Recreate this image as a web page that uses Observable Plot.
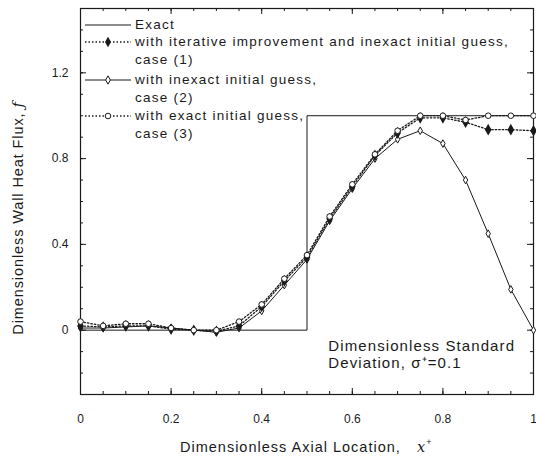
<!DOCTYPE html>
<html>
<head>
<meta charset="utf-8">
<script src="https://cdn.jsdelivr.net/npm/d3@7"></script>
<script src="https://cdn.jsdelivr.net/npm/@observablehq/plot@0.6"></script>
<style>
  html, body { margin: 0; padding: 0; background: #fff; }
  #wrap { position: relative; width: 536px; height: 456px; font-family: "Liberation Sans", Arial, sans-serif; }
  #legend { position: absolute; left: 80px; top: 8px; }
</style>
</head>
<body>
<div id="wrap"></div>
<script>
// ---- data ----
const xs = [0, 0.05, 0.1, 0.15, 0.2, 0.25, 0.3, 0.35, 0.4, 0.45, 0.5, 0.55, 0.6, 0.65, 0.7, 0.75, 0.8, 0.85, 0.9, 0.95, 1.0];
const case1 = [0.02, 0.015, 0.02, 0.02, 0.005, 0.0, -0.005, 0.02, 0.11, 0.23, 0.34, 0.52, 0.67, 0.815, 0.92, 0.99, 0.99, 0.97, 0.935, 0.935, 0.93];
const case2 = [0.01, 0.01, 0.015, 0.02, 0.01, 0.0, -0.01, 0.01, 0.09, 0.21, 0.33, 0.51, 0.66, 0.80, 0.89, 0.93, 0.87, 0.70, 0.45, 0.19, 0.0];
const case3 = [0.04, 0.02, 0.03, 0.03, 0.01, 0.0, 0.0, 0.04, 0.12, 0.24, 0.35, 0.53, 0.68, 0.82, 0.93, 1.0, 1.0, 0.98, 1.0, 1.0, 1.0];
const exactX = [0, 0.5, 0.5, 1];
const exactY = [0, 0, 1, 1];
const xMajor = [0, 0.2, 0.4, 0.6, 0.8, 1];
const xTickLabels = ["0", "0.2", "0.4", "0.6", "0.8", "1"];
const xMinor = d3.range(0, 21).map(i => i * 0.05);
const yMajor = [0, 0.4, 0.8, 1.2];
const yTickLabels = ["0", "0.4", "0.8", "1.2"];
const yMinor = d3.range(-3, 16).map(i => i / 10);
const legendLabels = [
  ["Exact"],
  ["with iterative improvement and inexact initial guess,", "case (1)"],
  ["with inexact initial guess,", "case (2)"],
  ["with exact initial guess,", "case (3)"]
];
const annotation = "Dimensionless Standard\nDeviation, σ⁺=0.1";

const exact = exactX.map((x, i) => ({x, y: exactY[i]}));
const mk = arr => xs.map((x, i) => ({x, y: arr[i]}));
const d1 = mk(case1), d2 = mk(case2), d3s = mk(case3);

const W = 536, H = 456, mL = 80, mR = 3, mT = 8, mB = 62;
const innerW = W - mL - mR, innerH = H - mT - mB;
const ink = "#1a1a1a";

const chart = Plot.plot({
  width: W, height: H,
  marginLeft: mL, marginRight: mR, marginTop: mT, marginBottom: mB,
  style: {fontFamily: "Liberation Sans, Arial, sans-serif", fontSize: "12px", color: ink, background: "#fff"},
  x: {domain: [0, 1]},
  y: {domain: [-0.3, 1.5]},
  marks: [
    Plot.frame({stroke: ink, strokeWidth: 1.2}),
    // inward ticks
    Plot.tickX(xMinor, {x: d => d, insetTop: innerH - 3, stroke: ink}),
    Plot.tickX(xMinor, {x: d => d, insetBottom: innerH - 3, stroke: ink}),
    Plot.tickX(xMajor, {x: d => d, insetTop: innerH - 6, stroke: ink}),
    Plot.tickX(xMajor, {x: d => d, insetBottom: innerH - 6, stroke: ink}),
    Plot.tickY(yMinor, {y: d => d, insetRight: innerW - 3, stroke: ink}),
    Plot.tickY(yMinor, {y: d => d, insetLeft: innerW - 3, stroke: ink}),
    Plot.tickY(yMajor, {y: d => d, insetRight: innerW - 6, stroke: ink}),
    Plot.tickY(yMajor, {y: d => d, insetLeft: innerW - 6, stroke: ink}),
    Plot.axisX({ticks: xMajor, tickFormat: (d, i) => xTickLabels[i], tickSize: 0, tickPadding: 20, fontSize: 12,
      label: null}),
    Plot.axisY({ticks: yMajor, tickFormat: (d, i) => yTickLabels[i], tickSize: 0, tickPadding: 12, fontSize: 12,
      label: null}),
    Plot.line(exact, {x: "x", y: "y", stroke: ink, strokeWidth: 1}),
    Plot.line(d2, {x: "x", y: "y", stroke: ink, strokeWidth: 1}),
    Plot.line(d1, {x: "x", y: "y", stroke: ink, strokeWidth: 1.3, strokeDasharray: "1.5,2"}),
    Plot.line(d3s, {x: "x", y: "y", stroke: ink, strokeWidth: 1.3, strokeDasharray: "1.5,2"}),
    Plot.dot(d2, {x: "x", y: "y", symbol: "diamond", r: 2.3, stroke: ink, fill: "#fff", strokeWidth: 1}),
    Plot.dot(d1, {x: "x", y: "y", symbol: "diamond", r: 2.6, fill: ink, stroke: ink}),
    Plot.dot(d3s, {x: "x", y: "y", symbol: "circle", r: 2.8, stroke: ink, fill: "#fff", strokeWidth: 1}),
    Plot.text([annotation], {x: 0.547, y: -0.04, text: d => d, textAnchor: "start", lineAnchor: "top",
      fontSize: 15, lineHeight: 1.13, fill: ink})
  ]
});

const wrap = document.getElementById("wrap");
wrap.appendChild(chart);

const svg = d3.select(chart);
svg.selectAll("text").filter(function() {
  return this.textContent.indexOf("Standard") >= 0;
}).attr("letter-spacing", "1.1").style("letter-spacing", "1.1px");

// axis titles
svg.append("text")
  .attr("transform", `translate(19, ${mT + 210}) rotate(-90)`)
  .attr("text-anchor", "middle").attr("dominant-baseline", "middle")
  .attr("font-size", 14.5).attr("fill", ink).style("letter-spacing", "0.9px")
  .html('Dimensionless Wall Heat Flux, <tspan font-style="italic" font-family="DejaVu Serif">ƒ</tspan>');
svg.append("text")
  .attr("x", 180).attr("y", 452).attr("text-anchor", "start")
  .attr("font-size", 14.5).attr("fill", ink).style("letter-spacing", "1px")
  .html('Dimensionless Axial Location,<tspan x="417" font-style="italic" font-family="DejaVu Serif">x</tspan><tspan dy="-7" font-size="9">+</tspan>');

// legend (inside plot, top-left)
const lg = d3.select(wrap).append("svg").attr("id", "legend").attr("width", 450).attr("height", 140);
const rows = [17, 34, 72, 108];
const styles = [
  {dash: null, sym: null},
  {dash: "1.5,2", sym: "fdiamond"},
  {dash: null, sym: "odiamond"},
  {dash: "1.5,2", sym: "ocircle"}
];
rows.forEach((ry, i) => {
  const g = lg.append("g");
  g.append("line").attr("x1", 5).attr("x2", 51).attr("y1", ry).attr("y2", ry)
    .attr("stroke", ink).attr("stroke-width", styles[i].dash ? 1.3 : 1).attr("stroke-dasharray", styles[i].dash);
  const s = styles[i].sym;
  if (s === "fdiamond") g.append("path").attr("d", d3.symbol(d3.symbolDiamond, 32)()).attr("transform", `translate(28,${ry})`).attr("fill", ink);
  if (s === "odiamond") g.append("path").attr("d", d3.symbol(d3.symbolDiamond, 20)()).attr("transform", `translate(28,${ry})`).attr("fill", "#fff").attr("stroke", ink);
  if (s === "ocircle") g.append("circle").attr("cx", 28).attr("cy", ry).attr("r", 2.8).attr("fill", "#fff").attr("stroke", ink);
  legendLabels[i].forEach((t, j) => {
    g.append("text").attr("x", 55).attr("y", ry + j * 18).attr("dominant-baseline", "middle")
      .attr("font-size", 13.5).attr("fill", ink).style("letter-spacing", "1.25px").text(t);
  });
});
</script>
</body>
</html>
